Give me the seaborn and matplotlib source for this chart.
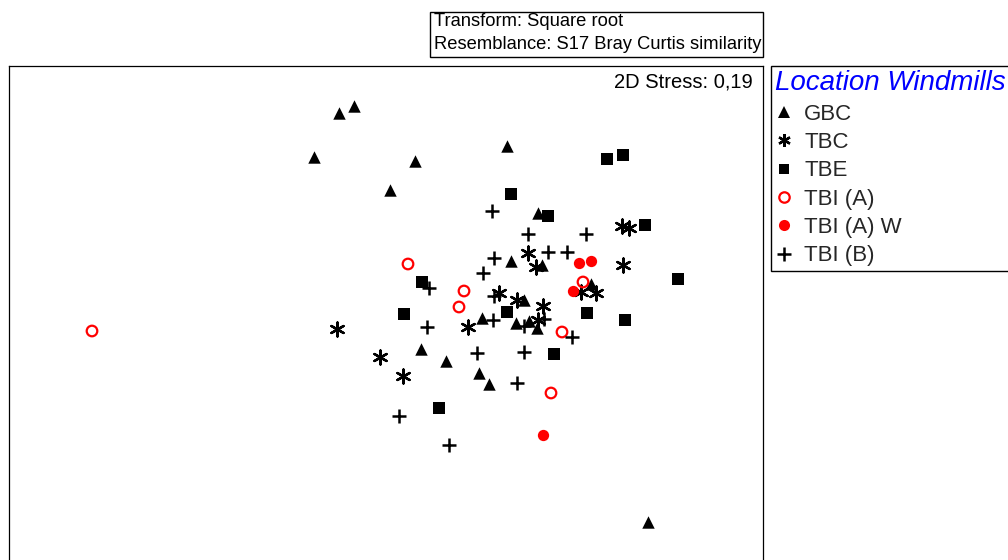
import matplotlib
matplotlib.use("Agg")
import matplotlib.pyplot as plt
from matplotlib.lines import Line2D
from matplotlib.patches import Rectangle
import pandas as pd
import seaborn as sns

# nMDS ordination coordinates per windmill location
gbc_x = [-0.47, -0.32, -0.72, 0.29, 0.04, 1.21, 1.52, 1.25, 1.56, 2.05,
         1.38, 0.96, 1.30, 1.43, 1.51, 0.35, 0.60, 0.93, 1.03, 2.62]
gbc_y = [2.00, 2.07, 1.56, 1.52, 1.23, 1.67, 1.00, 0.52, 0.48, 0.29,
         0.13, -0.05, -0.10, -0.08, -0.15, -0.36, -0.48, -0.60, -0.71, -2.09]

tbc_x = [2.36, 2.43, 2.37, 1.42, 1.50, 1.13, 1.31, 1.57, 1.95, 2.10,
         1.52, 0.82, -0.49, -0.06, 0.17]
tbc_y = [0.87, 0.85, 0.48, 0.60, 0.46, 0.20, 0.13, 0.07, 0.21, 0.20,
         -0.07, -0.14, -0.16, -0.44, -0.63]

tbe_x = [2.21, 2.37, 1.25, 1.62, 2.59, 2.92, 0.36, 0.18, 1.21, 2.01,
         2.39, 1.68, 0.53]
tbe_y = [1.54, 1.58, 1.19, 0.97, 0.88, 0.34, 0.31, -0.01, 0.01, 0.00,
         -0.07, -0.41, -0.95]

tbia_x = [-2.94, 0.22, 0.78, 0.73, 1.97, 1.76, 1.65]
tbia_y = [-0.18, 0.49, 0.22, 0.06, 0.31, -0.19, -0.80]

tbiaw_x = [1.93, 2.05, 1.87, 1.57]
tbiaw_y = [0.50, 0.52, 0.22, -1.22]

tbib_x = [1.06, 1.42, 2.00, 1.62, 1.81, 1.08, 0.97, 0.43, 1.08, 1.07,
          0.41, 1.38, 1.58, 1.86, 0.91, 1.38, 1.31, 0.13, 0.63]
tbib_y = [1.02, 0.79, 0.79, 0.61, 0.61, 0.55, 0.40, 0.25, 0.17, -0.07,
          -0.14, -0.13, -0.06, -0.24, -0.40, -0.39, -0.70, -1.03, -1.32]

locations = ["GBC", "TBC", "TBE", "TBI (A)", "TBI (A) W", "TBI (B)"]
coords = [(gbc_x, gbc_y), (tbc_x, tbc_y), (tbe_x, tbe_y),
          (tbia_x, tbia_y), (tbiaw_x, tbiaw_y), (tbib_x, tbib_y)]

df = pd.concat(
    [pd.DataFrame({"MDS1": xs, "MDS2": ys, "Location": name})
     for name, (xs, ys) in zip(locations, coords)],
    ignore_index=True,
)

asterisk = (6, 2, 0)
# marker, size (pt^2), face, edge, line width, legend marker size
styles = {
    "GBC":       ("^", 80, "black", "none", 0.0, 8.5),
    "TBC":       (asterisk, 100, "black", "black", 1.7, 9.0),
    "TBE":       ("s", 72, "black", "none", 0.0, 7.5),
    "TBI (A)":   ("o", 58, "none", "red", 1.6, 7.5),
    "TBI (A) W": ("o", 66, "red", "none", 0.0, 8.0),
    "TBI (B)":   ("+", 105, "black", "black", 1.8, 10.0),
}

sns.set_style("white")
plt.rcParams["font.family"] = ["Liberation Sans", "DejaVu Sans"]

W, H = 1008, 560
fig = plt.figure(figsize=(W / 100, H / 100), dpi=100)


def fx(px):
    return px / W


def fy(py):
    return 1 - py / H


# ordination panel (its lower edge runs past the bottom of the figure)
left, right, top, bottom = 9, 763, 66, 575
ax = fig.add_axes([fx(left), fy(bottom), fx(right) - fx(left), fy(top) - fy(bottom)])

for name in locations:
    marker, size, face, edge, lw, _ = styles[name]
    sub = df[df["Location"] == name]
    sns.scatterplot(data=sub, x="MDS1", y="MDS2", ax=ax, marker=marker, s=size,
                    color=face if face != "none" else edge, linewidth=lw,
                    legend=False, zorder=3)
    coll = ax.collections[-1]
    coll.set_facecolor(face)
    coll.set_edgecolor(edge if edge != "none" else face)
    coll.set_linewidth(lw)

ax.set_xlim(-3.77, 3.77)
ax.set_ylim(-2.62, 2.47)
ax.set_xticks([])
ax.set_yticks([])
ax.set_xlabel("")
ax.set_ylabel("")
for sp in ax.spines.values():
    sp.set_visible(True)
    sp.set_color("black")
    sp.set_linewidth(0.9)

fig.text(fx(753), fy(88), "2D Stress: 0,19", ha="right", va="baseline",
         fontsize=14.5, color="black")

# header box describing the data treatment
fig.add_artist(Rectangle((fx(430), fy(57)), fx(763) - fx(430), fy(12) - fy(57),
                         transform=fig.transFigure, fill=False,
                         edgecolor="black", linewidth=1.0))
fig.text(fx(434), fy(26), "Transform: Square root", ha="left", va="baseline",
         fontsize=13.2, color="black")
fig.text(fx(434), fy(49), "Resemblance: S17 Bray Curtis similarity",
         ha="left", va="baseline", fontsize=13.2, color="black")

handles = []
for name in locations:
    marker, size, face, edge, lw, ms = styles[name]
    handles.append(Line2D([], [], linestyle="none", marker=marker, markersize=ms,
                          markerfacecolor=face,
                          markeredgecolor=edge if edge != "none" else face,
                          markeredgewidth=lw if lw > 0 else 0.0))

leg = fig.legend(handles, locations, loc="upper left",
                 bbox_to_anchor=(fx(771), fy(66)), bbox_transform=fig.transFigure,
                 borderaxespad=0, frameon=True, fancybox=False, framealpha=1,
                 edgecolor="black", title="Location Windmills",
                 title_fontproperties={"size": 20, "style": "italic"},
                 fontsize=16, handlelength=0.8, handletextpad=0.5,
                 labelspacing=0.33, borderpad=0.2, alignment="left")
leg.get_title().set_color("blue")
leg.get_frame().set_linewidth(1.0)

fig.savefig("out.png", dpi=100)
